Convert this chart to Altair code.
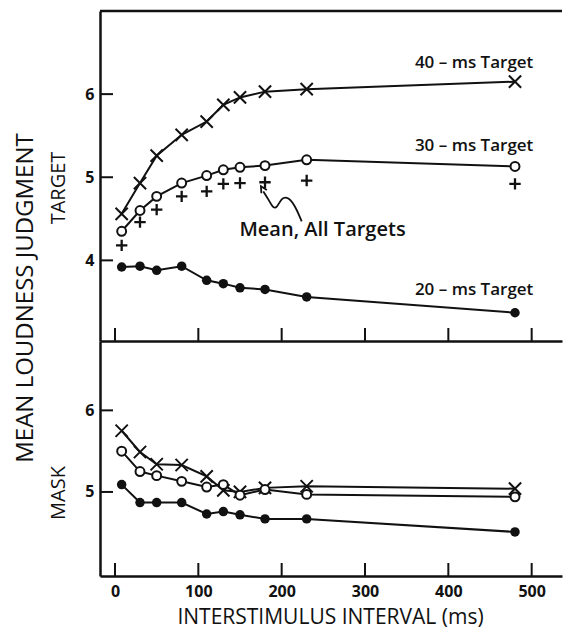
import altair as alt
import pandas as pd

# ---------------- data ----------------
isi = [8, 30, 50, 80, 110, 130, 150, 180, 230, 480]

target_40 = [4.56, 4.93, 5.26, 5.51, 5.67, 5.87, 5.96, 6.03, 6.06, 6.15]
target_30 = [4.35, 4.60, 4.77, 4.93, 5.02, 5.09, 5.12, 5.14, 5.21, 5.13]
target_mean = [4.18, 4.46, 4.61, 4.77, 4.83, 4.92, 4.93, 4.94, 4.96, 4.92]
target_20 = [3.92, 3.93, 3.88, 3.93, 3.76, 3.72, 3.67, 3.65, 3.56, 3.37]

mask_40 = [5.75, 5.49, 5.34, 5.33, 5.19, 5.02, 5.00, 5.05, 5.07, 5.04]
mask_30 = [5.50, 5.25, 5.20, 5.13, 5.06, 5.09, 4.96, 5.03, 4.97, 4.94]
mask_20 = [5.09, 4.87, 4.87, 4.87, 4.73, 4.76, 4.72, 4.67, 4.67, 4.51]

x_ticks = [0, 100, 200, 300, 400, 500]
y_ticks_target = [4, 5, 6]
y_ticks_mask = [5, 6]

series_labels = ["40 – ms Target", "30 – ms Target", "20 – ms Target"]
series_label_x = [502, 502, 502]
series_label_y = [6.38, 5.37, 3.64]

mean_label = ["Mean, All Targets"]
mean_label_x = [249]
mean_label_y = [4.36]

arrow_x = [224, 216, 208, 200, 194, 189, 185, 178]
arrow_y = [4.47, 4.66, 4.76, 4.76, 4.62, 4.64, 4.72, 4.83]
arrow_tip_x = [177]
arrow_tip_y = [4.86]

# ---------------- styling ----------------
FONT = "Open Sans"
INK = "#111111"
W = 462
HT = 330
HB = 235
XDOM = [-18, 536.4]
YDOM_T = [3.03, 7.0]
YDOM_B = [3.97, 6.85]

X_SHAPE = "M-1,-1L1,1M-1,1L1,-1"
PLUS_SHAPE = "M-1,0L1,0M0,-1L0,1"
CHEVRON = "M-1,1L0,-1L1,1"


def sdf(vals, name):
    return pd.DataFrame({"isi": isi, "v": vals, "s": name})


xscale = alt.Scale(domain=XDOM, nice=False, zero=False)
top_xaxis = alt.Axis(labels=False, ticks=False, grid=False, title=None, domain=True)
bot_xaxis = alt.Axis(values=x_ticks, ticks=False, grid=False,
                     title="INTERSTIMULUS INTERVAL (ms)", labelPadding=7,
                     titlePadding=7, titleFontSize=21, titleX=230, domain=True)


def panel(series, plus_series, ticks_y, ydom, height, xaxis, extra):
    yscale = alt.Scale(domain=ydom, nice=False, zero=False)
    yaxis = alt.Axis(values=ticks_y, ticks=False, grid=False, title=None,
                     labelPadding=6, domain=True)
    X = lambda f: alt.X(f, scale=xscale, axis=xaxis)
    Y = lambda f: alt.Y(f, scale=yscale, axis=yaxis)

    s40, s30, s20 = series
    lines_df = pd.concat([sdf(s40, "40"), sdf(s30, "30"), sdf(s20, "20")])

    layers = []
    layers.append(
        alt.Chart(pd.DataFrame({"t": x_ticks})).mark_rule(color=INK, strokeWidth=2)
        .encode(x=X("t:Q"), y=alt.value(height), y2=alt.value(height - 13))
    )
    layers.append(
        alt.Chart(pd.DataFrame({"t": ticks_y})).mark_rule(color=INK, strokeWidth=2)
        .encode(y=Y("t:Q"), x=alt.value(0), x2=alt.value(13))
    )
    layers.append(
        alt.Chart(lines_df).mark_line(color=INK, strokeWidth=2)
        .encode(x=X("isi:Q"), y=Y("v:Q"), detail="s:N")
    )
    layers.append(
        alt.Chart(sdf(s40, "40")).mark_point(shape=X_SHAPE, size=150, stroke=INK,
                                             strokeWidth=2, opacity=1, filled=False)
        .encode(x=X("isi:Q"), y=Y("v:Q"))
    )
    layers.append(
        alt.Chart(sdf(s30, "30")).mark_circle(size=80, fill="white", stroke=INK,
                                              strokeWidth=2, opacity=1)
        .encode(x=X("isi:Q"), y=Y("v:Q"))
    )
    layers.append(
        alt.Chart(sdf(s20, "20")).mark_circle(size=90, color=INK, opacity=1)
        .encode(x=X("isi:Q"), y=Y("v:Q"))
    )
    if plus_series is not None:
        layers.append(
            alt.Chart(sdf(plus_series, "mean")).mark_point(shape=PLUS_SHAPE, size=130,
                                                           stroke=INK, strokeWidth=2.3,
                                                           opacity=1, filled=False)
            .encode(x=X("isi:Q"), y=Y("v:Q"))
        )
    layers += extra(X, Y)
    return alt.layer(*layers).properties(width=W, height=height)


def top_extra(X, Y):
    out = []
    out.append(
        alt.Chart(pd.DataFrame({"a": [0]})).mark_rule(color=INK, strokeWidth=2.5)
        .encode(x=alt.value(0), x2=alt.value(W), y=alt.value(0))
    )
    out.append(
        alt.Chart(pd.DataFrame({"x": series_label_x, "y": series_label_y, "t": series_labels}))
        .mark_text(font=FONT, fontSize=17, fontWeight=600, color=INK, align="right",
                   baseline="middle")
        .encode(x=X("x:Q"), y=Y("y:Q"), text="t:N")
    )
    out.append(
        alt.Chart(pd.DataFrame({"x": mean_label_x, "y": mean_label_y, "t": mean_label}))
        .mark_text(font=FONT, fontSize=20, fontWeight=600, color=INK, align="center",
                   baseline="middle")
        .encode(x=X("x:Q"), y=Y("y:Q"), text="t:N")
    )
    out.append(
        alt.Chart(pd.DataFrame({"x": arrow_x, "y": arrow_y, "o": list(range(len(arrow_x)))}))
        .mark_line(color=INK, strokeWidth=1.8, interpolate="basis")
        .encode(x=X("x:Q"), y=Y("y:Q"), order="o:Q")
    )
    out.append(
        alt.Chart(pd.DataFrame({"x": arrow_tip_x, "y": arrow_tip_y}))
        .mark_point(shape=CHEVRON, size=40, stroke=INK, strokeWidth=1.8, angle=330,
                    opacity=1, filled=False)
        .encode(x=X("x:Q"), y=Y("y:Q"))
    )
    out.append(
        alt.Chart(pd.DataFrame({"t": ["TARGET"]}))
        .mark_text(font=FONT, fontSize=20, color=INK, angle=270, baseline="middle")
        .encode(text="t:N", x=alt.value(-41), y=alt.value(177))
    )
    out.append(
        alt.Chart(pd.DataFrame({"t": ["MEAN LOUDNESS JUDGMENT"]}))
        .mark_text(font=FONT, fontSize=24, color=INK, angle=270, baseline="middle")
        .encode(text="t:N", x=alt.value(-74), y=alt.value(287))
    )
    return out


def bottom_extra(X, Y):
    return [
        alt.Chart(pd.DataFrame({"t": ["MASK"]}))
        .mark_text(font=FONT, fontSize=20, color=INK, angle=270, baseline="middle")
        .encode(text="t:N", x=alt.value(-41), y=alt.value(152))
    ]


top = panel((target_40, target_30, target_20), target_mean, y_ticks_target,
            YDOM_T, HT, top_xaxis, top_extra)
bottom = panel((mask_40, mask_30, mask_20), None, y_ticks_mask,
               YDOM_B, HB, bot_xaxis, bottom_extra)

chart = (
    alt.vconcat(top, bottom, spacing=0, bounds="flush")
    .properties(padding={"left": 6, "top": 1, "right": 0, "bottom": 3},
                background="white")
    .configure_view(stroke=None)
    .configure_axis(domainColor=INK, domainWidth=2.5, labelFont=FONT, labelFontSize=16,
                    labelFontWeight="bold", labelColor=INK, titleFont=FONT,
                    titleFontSize=21, titleFontWeight="normal", titleColor=INK)
)

chart.save("out.html", embed_options={"renderer": "svg", "actions": False})
